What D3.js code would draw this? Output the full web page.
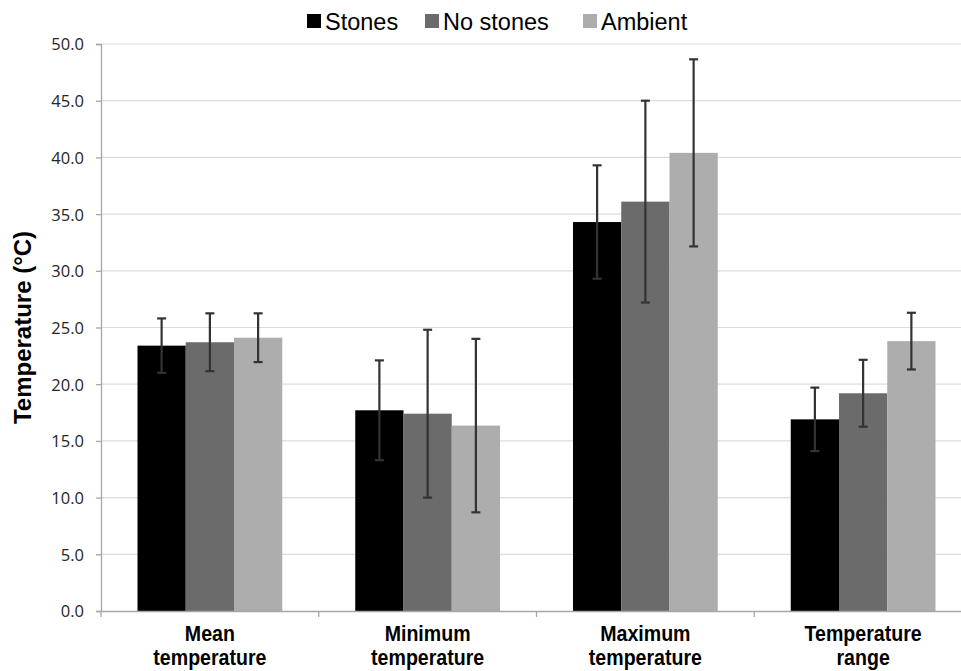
<!DOCTYPE html>
<html>
<head>
<meta charset="utf-8">
<script src="https://cdn.jsdelivr.net/npm/d3@7"></script>
<style>
html,body{margin:0;padding:0;background:#fff;overflow:hidden;}
svg{display:block;}
</style>
</head>
<body>
<svg id="chart" width="961" height="671"></svg>
<script>
const categories = [["Mean","temperature"],["Minimum","temperature"],["Maximum","temperature"],["Temperature","range"]];
const categoryKeys = ["Mean temperature","Minimum temperature","Maximum temperature","Temperature range"];
const seriesNames = ["Stones","No stones","Ambient"];
const stonesValues = [23.4, 17.7, 34.3, 16.9];
const noStonesValues = [23.7, 17.4, 36.1, 19.2];
const ambientValues = [24.1, 16.35, 40.4, 23.8];
const stonesErr = [2.4, 4.4, 5.0, 2.8];
const noStonesErr = [2.55, 7.4, 8.9, 2.95];
const ambientErr = [2.15, 7.65, 8.25, 2.5];
const yTicks = [0,5,10,15,20,25,30,35,40,45,50];
const colors = ["#000000","#6b6b6b","#adadad"];

const seriesValues = [stonesValues, noStonesValues, ambientValues];
const seriesErr = [stonesErr, noStonesErr, ambientErr];

const svg = d3.select("#chart");
const mLeft = 101, mRight = 972, mTop = 44, mBottom = 611;

const y = d3.scaleLinear().domain([0,50]).range([mBottom, mTop]);
const x0 = d3.scaleBand().domain(categoryKeys).range([mLeft, mRight]).padding(0);
const gPad = 36.5;
const x1 = d3.scaleBand().domain(seriesNames).range([gPad, x0.bandwidth()-gPad]).padding(0);

// gridlines
svg.append("g").selectAll("line").data(yTicks.filter(d=>d>0)).join("line")
  .attr("x1", mLeft).attr("x2", mRight)
  .attr("y1", d=>y(d)).attr("y2", d=>y(d))
  .attr("stroke", "#dcdcdc").attr("stroke-width", 1.2);

// y axis
const yAxis = d3.axisLeft(y).tickValues(yTicks).tickFormat(d3.format(".1f")).tickSize(5).tickPadding(12);
const ya = svg.append("g").attr("transform", `translate(${mLeft},0)`).call(yAxis);
ya.select(".domain").attr("stroke","#a6a6a6").attr("stroke-width",1.3);
ya.selectAll(".tick line").attr("stroke","#a6a6a6").attr("stroke-width",1.3);
ya.selectAll(".tick text").attr("font-family","'Open Sans', 'DejaVu Sans', sans-serif").attr("font-size",16.5).attr("fill","#262626").attr("dy","0.36em");

// bars
const groups = svg.append("g").selectAll("g").data(categoryKeys).join("g")
  .attr("transform", d=>`translate(${x0(d)},0)`);
groups.each(function(cat, ci){
  const g = d3.select(this);
  seriesNames.forEach((s, si)=>{
    const v = seriesValues[si][ci];
    g.append("rect")
      .attr("x", x1(s)).attr("width", x1.bandwidth())
      .attr("y", y(v)).attr("height", y(0)-y(v))
      .attr("fill", colors[si]);
  });
  seriesNames.forEach((s, si)=>{
    const v = seriesValues[si][ci], e = seriesErr[si][ci];
    const cx = x1(s) + x1.bandwidth()/2;
    g.append("line").attr("x1",cx).attr("x2",cx).attr("y1",y(v+e)).attr("y2",y(v-e))
      .attr("stroke","#333").attr("stroke-width",2.2);
    [v+e, v-e].forEach(t=>{
      g.append("line").attr("x1",cx-4.5).attr("x2",cx+4.5).attr("y1",y(t)).attr("y2",y(t))
        .attr("stroke","#333").attr("stroke-width",2.2);
    });
  });
});

// x axis
const xAxis = d3.axisBottom(x0).tickSize(0).tickFormat("");
const xa = svg.append("g").attr("transform", `translate(0,${mBottom})`).call(xAxis);
xa.select(".domain").attr("stroke","#a6a6a6").attr("stroke-width",1.3);
const boundaries = categoryKeys.map(k=>x0(k));
svg.append("g").selectAll("line").data(boundaries).join("line")
  .attr("x1", d=>d).attr("x2", d=>d).attr("y1", mBottom).attr("y2", mBottom+6)
  .attr("stroke","#a6a6a6").attr("stroke-width",1.3);

// x labels (condensed bold)
const xl = svg.append("g");
categoryKeys.forEach((k, i)=>{
  const cx = x0(k) + x0.bandwidth()/2;
  const t = xl.append("text")
    .attr("transform", `translate(${cx},641) scale(0.89,1)`)
    .attr("text-anchor","middle")
    .attr("font-family","'Liberation Sans', Arial, sans-serif")
    .attr("font-weight","bold").attr("font-size",22).attr("fill","#000");
  categories[i].forEach((line, li)=>{
    t.append("tspan").attr("x", 0).attr("y", li*24).text(line);
  });
});

// y title
svg.append("text")
  .attr("transform", `translate(31,${(mTop+mBottom)/2}) rotate(-90)`)
  .attr("text-anchor","middle")
  .attr("font-family","'Liberation Sans', Arial, sans-serif")
  .attr("font-weight","bold").attr("font-size",24).attr("fill","#000")
  .text("Temperature (°C)");

// legend
const legendX = [307, 425, 583];
const leg = svg.append("g");
seriesNames.forEach((s, i)=>{
  leg.append("rect").attr("x", legendX[i]).attr("y", 14).attr("width", 14).attr("height", 14).attr("fill", colors[i]);
  leg.append("text").attr("x", legendX[i]+18).attr("y", 30)
    .attr("font-family","'Liberation Sans', Arial, sans-serif")
    .attr("font-size",23.5).attr("fill","#000").text(s);
});
</script>
</body>
</html>
